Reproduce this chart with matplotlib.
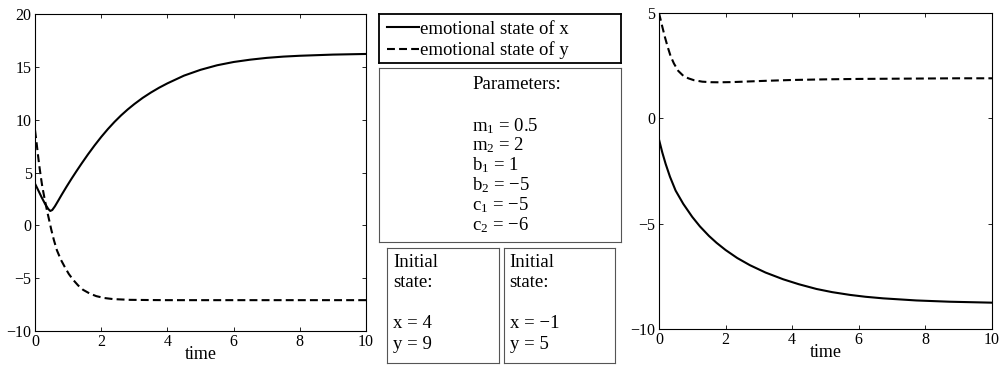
import numpy as np
import matplotlib
matplotlib.use('Agg')
import matplotlib.pyplot as plt

plt.rcParams['font.family'] = ['Liberation Serif', 'DejaVu Serif']
plt.rcParams['mathtext.fontset'] = 'custom'
plt.rcParams['mathtext.rm'] = 'Liberation Serif'
plt.rcParams['mathtext.it'] = 'Liberation Serif:italic'

# left panel: initial state x = 4, y = 9
t_ax = [0, 0.1, 0.2, 0.3, 0.4, 0.46, 0.52, 0.6, 0.7, 0.8, 0.95, 1.1, 1.25, 1.4, 1.6,
        1.8, 2.0, 2.2, 2.4, 2.6, 2.8, 3.0, 3.25, 3.5, 3.75, 4.0, 4.5, 5.0, 5.5, 6.0,
        6.5, 7.0, 7.5, 8.0, 9.0, 10.0]
x_a = [3.94, 3.3, 2.65, 2.05, 1.55, 1.36, 1.45, 1.8, 2.33, 2.87, 3.65, 4.4, 5.12, 5.82,
       6.72, 7.57, 8.37, 9.11, 9.79, 10.41, 10.97, 11.48, 12.06, 12.57, 13.03, 13.44,
       14.17, 14.72, 15.15, 15.46, 15.68, 15.85, 15.97, 16.05, 16.16, 16.22]
t_ay = [0, 0.04, 0.08, 0.12, 0.17, 0.22, 0.29, 0.36, 0.43, 0.49, 0.57, 0.66, 0.78,
        0.9, 1.02, 1.15, 1.3, 1.45, 1.65, 1.85, 2.1, 2.36, 2.86, 3.5, 4.0, 5.0, 6.0,
        7.0, 8.0, 9.0, 10.0]
y_a = [9.0, 8.0, 6.9, 5.85, 4.7, 3.65, 2.5, 1.42, 0.45, -0.4, -1.4, -2.35, -3.25,
       -3.95, -4.6, -5.15, -5.68, -6.1, -6.45, -6.7, -6.88, -6.98, -7.05, -7.07, -7.08,
       -7.08, -7.08, -7.08, -7.08, -7.08, -7.08]

# right panel: initial state x = -1, y = 5
t_bx = [0, 0.1, 0.2, 0.33, 0.5, 0.73, 1.0, 1.23, 1.5, 1.73, 2.0, 2.35, 2.73, 3.2,
        3.73, 4.2, 4.73, 5.2, 5.73, 6.2, 6.73, 7.73, 8.73, 10.0]
x_b = [-1.0, -1.62, -2.16, -2.77, -3.43, -4.06, -4.68, -5.13, -5.58, -5.91, -6.25,
       -6.63, -6.97, -7.32, -7.64, -7.875, -8.1, -8.25, -8.38, -8.47, -8.545, -8.645,
       -8.705, -8.75]
t_by = [0, 0.05, 0.1, 0.18, 0.26, 0.35, 0.45, 0.58, 0.73, 0.88, 1.05, 1.3, 1.55,
        1.8, 2.2, 2.7, 3.2, 4.0, 5.0, 6.0, 7.0, 8.0, 9.0, 10.0]
y_b = [5.0, 4.68, 4.35, 3.85, 3.4, 2.95, 2.6, 2.25, 2.02, 1.9, 1.81, 1.74, 1.715,
       1.71, 1.72, 1.75, 1.78, 1.82, 1.85, 1.87, 1.88, 1.89, 1.9, 1.9]

legend_labels = ['emotional state of x', 'emotional state of y']
param_title = 'Parameters:'
param_lines = ['m$_1$ = 0.5', 'm$_2$ = 2', 'b$_1$ = 1', 'b$_2$ = \u22125',
               'c$_1$ = \u22125', 'c$_2$ = \u22126']
init_a = ['Initial', 'state:', '', 'x = 4', 'y = 9']
init_b = ['Initial', 'state:', '', 'x = \u22121', 'y = 5']

fs_tick = 11.5
fs_label = 13
fs_text = 13.5
fig = plt.figure(figsize=(10.01, 3.71), dpi=100)


def style(ax, yticks):
    ax.set_xlim(0, 10)
    ax.set_xticks([0, 2, 4, 6, 8, 10])
    ax.set_yticks(yticks)
    ax.set_ylim(yticks[0], yticks[-1])
    ax.tick_params(direction='in', top=True, right=True, length=3, width=0.6,
                   labelsize=fs_tick, pad=2.5)
    for s in ax.spines.values():
        s.set_linewidth(0.8)
    ax.set_xlabel('time', fontsize=fs_label, labelpad=-3)


ax1 = fig.add_axes([0.035, 0.1078, 0.3307, 0.8544])
l1, = ax1.plot(t_ax, x_a, 'k-', lw=1.5)
l2, = ax1.plot(t_ay, y_a, 'k--', lw=1.5, dashes=(3.8, 2))
style(ax1, [-10, -5, 0, 5, 10, 15, 20])

ax2 = fig.add_axes([0.6583, 0.1132, 0.3327, 0.8518])
ax2.plot(t_bx, x_b, 'k-', lw=1.5)
ax2.plot(t_by, y_b, 'k--', lw=1.5, dashes=(3.8, 2))
style(ax2, [-10, -5, 0, 5])


def box(rect, lw, color):
    b = fig.add_axes(rect)
    b.set_xticks([])
    b.set_yticks([])
    for s in b.spines.values():
        s.set_linewidth(lw)
        s.set_edgecolor(color)
    return b


# legend box
lb = box([0.3786, 0.8302, 0.2418, 0.1321], 1.3, 'black')
lb.legend([l1, l2], legend_labels, loc='center left', frameon=False, fontsize=fs_text,
          handlelength=1.7, handletextpad=0.05, borderaxespad=0, borderpad=0,
          labelspacing=0.2, bbox_to_anchor=(0.033, 0.47))

# parameter box
pb = box([0.3786, 0.3477, 0.2418, 0.469], 0.8, '#555555')
pb.text(0.386, 0.879, param_title, transform=pb.transAxes, fontsize=fs_text,
        va='baseline')
for i, s in enumerate(param_lines):
    pb.text(0.386, 0.638 - i * 0.1138, s, transform=pb.transAxes, fontsize=fs_text,
            va='baseline')

# initial state boxes
for rect, lines in [([0.3869, 0.0216, 0.1119, 0.31], init_a),
                    ([0.5035, 0.0216, 0.1109, 0.31], init_b)]:
    ib = box(rect, 0.8, '#555555')
    for i, s in enumerate(lines):
        ib.text(0.05, 0.835 - i * 0.178, s, transform=ib.transAxes, fontsize=fs_text,
                va='baseline')

fig.savefig('out.png', dpi=100)
